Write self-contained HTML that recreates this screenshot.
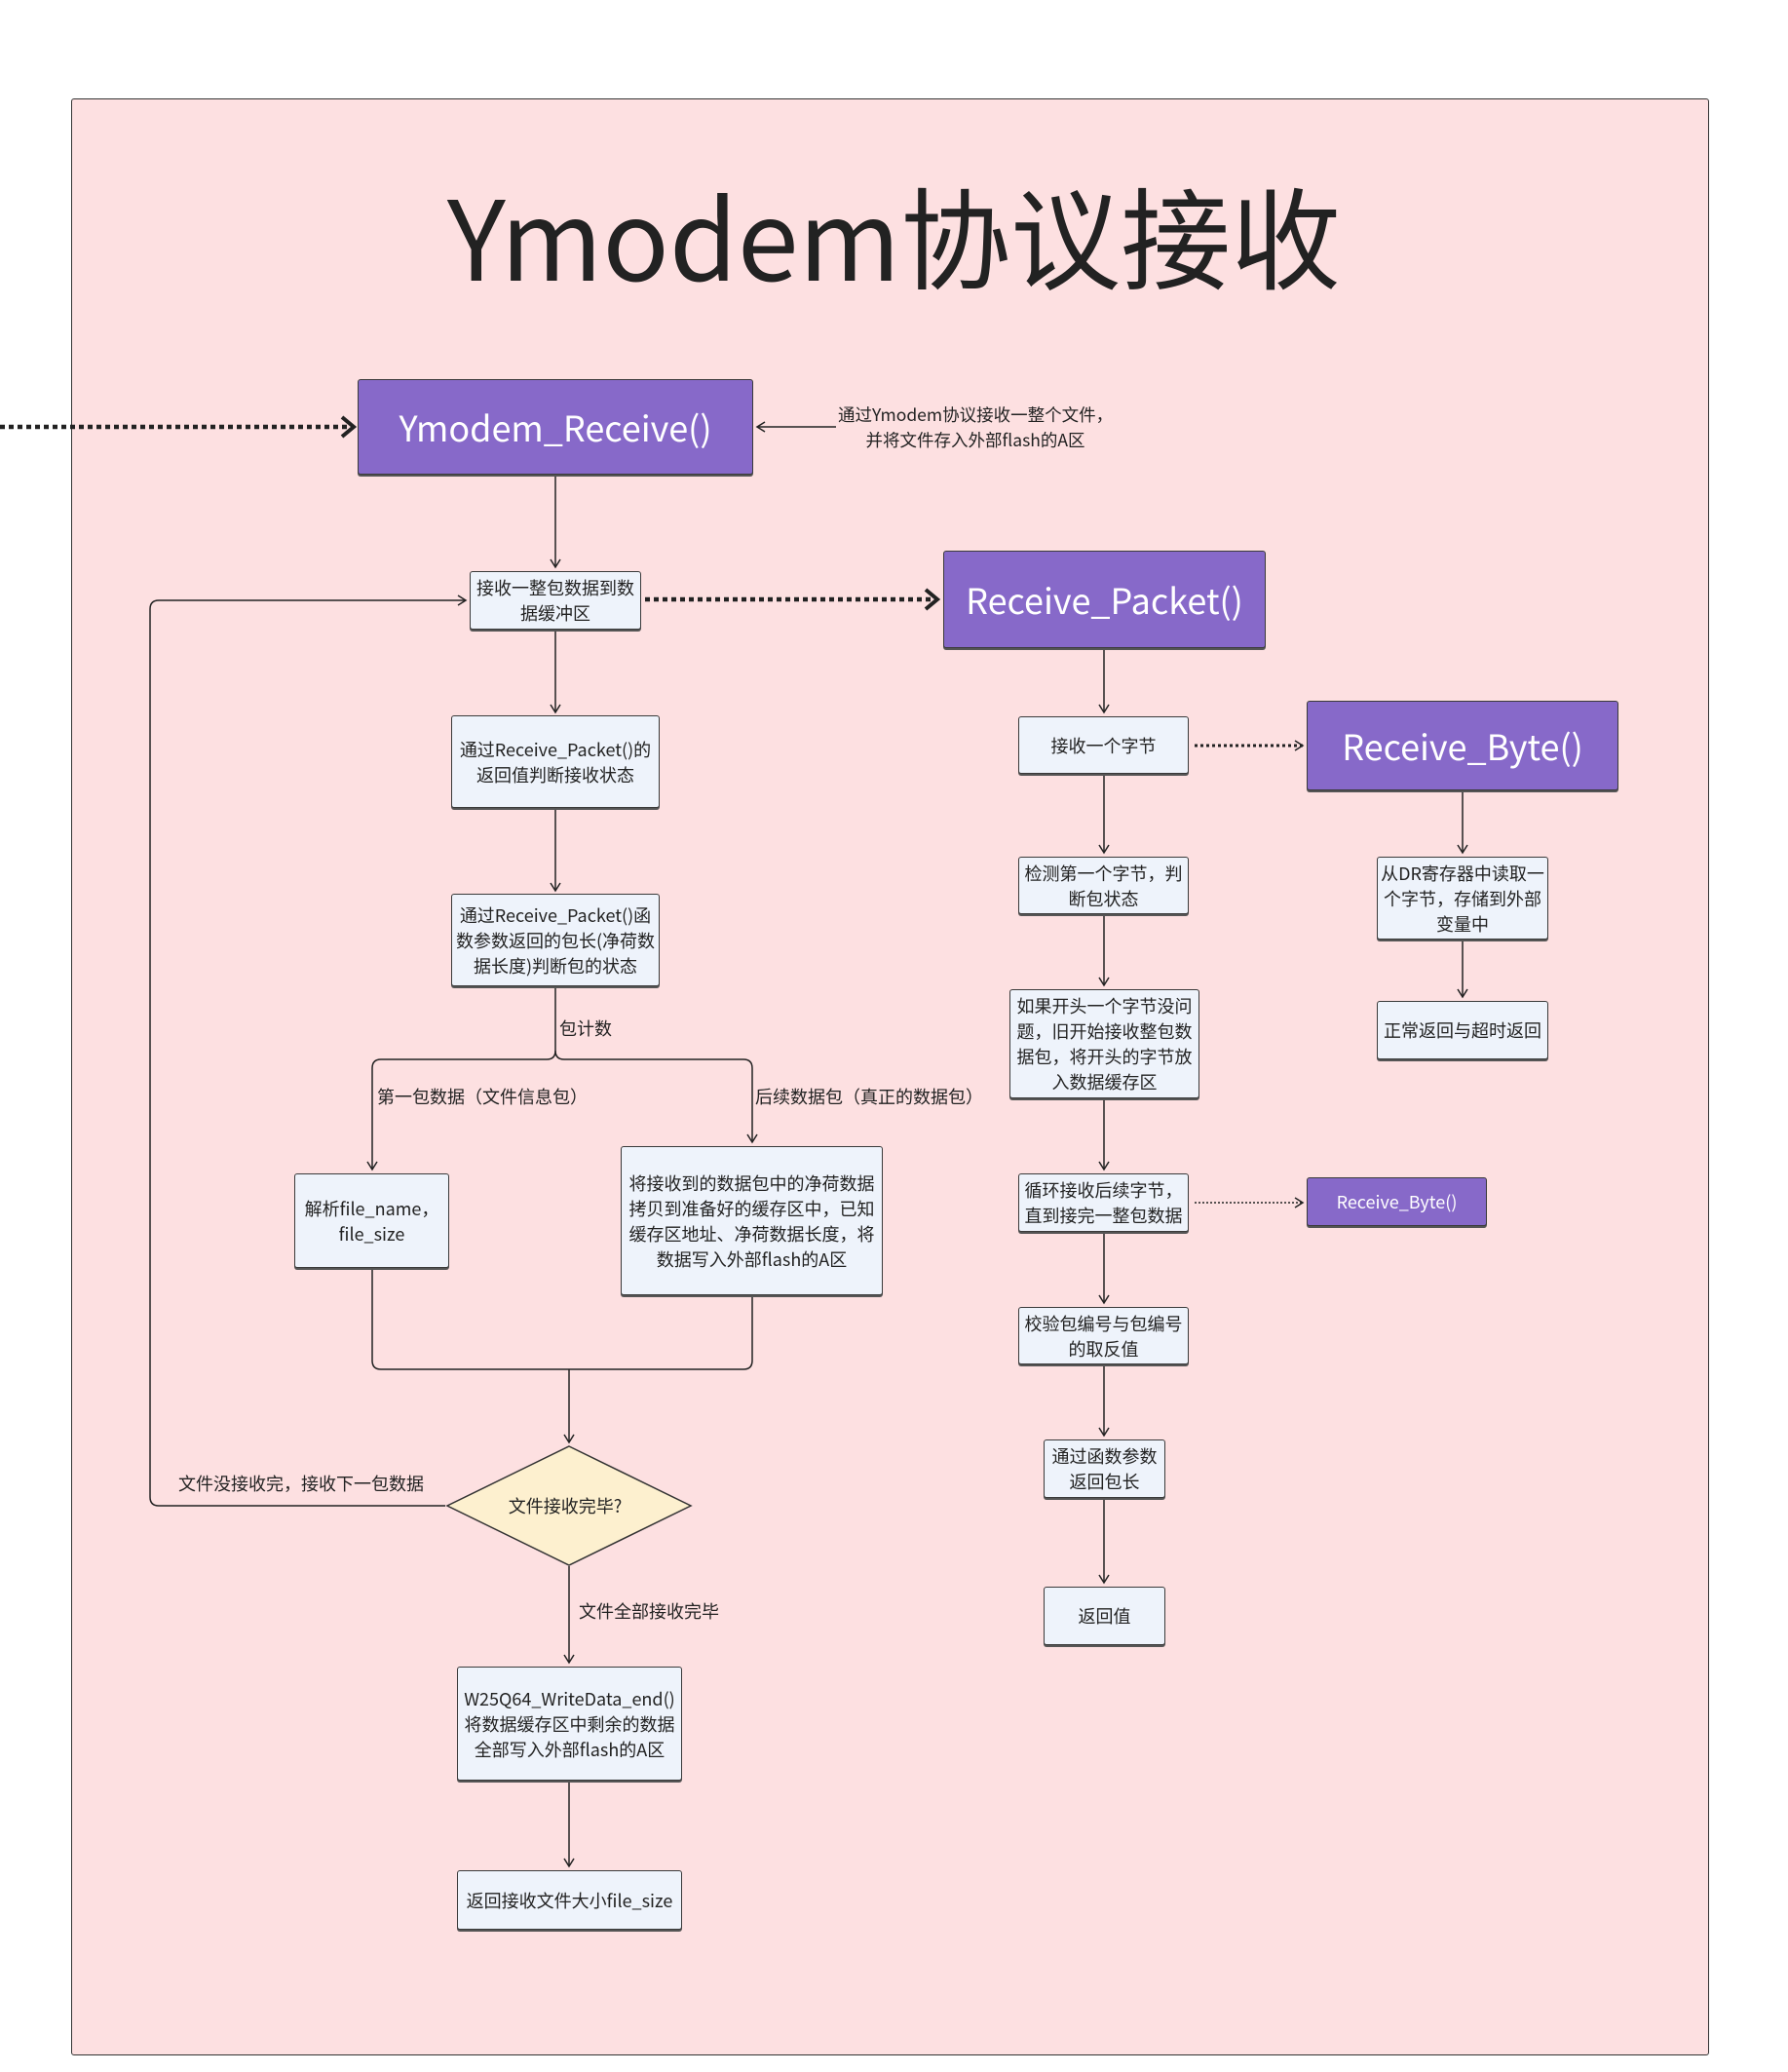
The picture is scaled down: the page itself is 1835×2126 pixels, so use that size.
<!DOCTYPE html>
<html><head><meta charset="utf-8"><style>
body{margin:0;width:1835px;height:2126px;background:#fff;position:relative;overflow:hidden;font-family:"Noto Sans CJK SC","Liberation Sans",sans-serif;}
.b{position:absolute;box-sizing:border-box;background:#eef3fb;border:1.5px solid #3a3a3a;border-radius:3px;display:flex;align-items:center;justify-content:center;text-align:center;font-size:18px;line-height:26px;color:#222;box-shadow:0 2px 0 #555;}
.p{background:#8769c9;color:#fff;border-color:#3a3a3a;}
.t{position:absolute;font-size:18px;line-height:26px;color:#222;white-space:nowrap;}
</style></head><body>
<div style="position:absolute;left:73px;top:101px;width:1681px;height:2008px;background:#fde0e1;border:1.5px solid #333;border-radius:3px;box-sizing:border-box;"></div>
<div style="position:absolute;left:0;width:1835px;top:154px;text-align:center;font-size:113px;line-height:170px;color:#222;padding-left:0px;">Ymodem协议接收</div>
<svg width="1835" height="2126" style="position:absolute;left:0;top:0" fill="none" stroke="#222">
<defs>
<marker id="a" markerWidth="12" markerHeight="12" refX="10" refY="6" orient="auto" markerUnits="userSpaceOnUse"><path d="M2,1 L10,6 L2,11" stroke="#222" stroke-width="1.5" fill="none"/></marker>
<marker id="A" markerWidth="20" markerHeight="24" refX="16" refY="12" orient="auto" markerUnits="userSpaceOnUse"><path d="M4,2 L16,12 L4,22" stroke="#222" stroke-width="4" fill="none"/></marker>
</defs>
<g stroke-width="1.5">
<path d="M0,438 H363" stroke-width="4.5" stroke-dasharray="5,4" marker-end="url(#A)"/>
<path d="M858,438 H777" marker-end="url(#a)"/>
<path d="M570,489 V582" marker-end="url(#a)"/>
<path d="M662,615 H962" stroke-width="4.5" stroke-dasharray="5,4" marker-end="url(#A)"/>
<path d="M570,648 V731" marker-end="url(#a)"/>
<path d="M570,831 V914" marker-end="url(#a)"/>
<path d="M570,1014 V1078 Q570,1087 561,1087 H391 Q382,1087 382,1096 V1200" marker-end="url(#a)"/>
<path d="M570,1078 Q570,1087 579,1087 H763 Q772,1087 772,1096 V1172" marker-end="url(#a)"/>
<path d="M382,1303 V1396 Q382,1405 391,1405 H763 Q772,1405 772,1396 V1331"/>
<path d="M584,1405 V1480" marker-end="url(#a)"/>
<path d="M457,1545 H163 Q154,1545 154,1536 V625 Q154,616 163,616 H478" marker-end="url(#a)"/>
<path d="M584,1607 V1706" marker-end="url(#a)"/>
<path d="M584,1829 V1915" marker-end="url(#a)"/>
<path d="M1133,667 V731" marker-end="url(#a)"/>
<path d="M1226,765 H1337" stroke-width="3" stroke-dasharray="3,3" marker-end="url(#a)"/>
<path d="M1133,796 V875" marker-end="url(#a)"/>
<path d="M1133,940 V1011" marker-end="url(#a)"/>
<path d="M1133,1129 V1200" marker-end="url(#a)"/>
<path d="M1226,1234 H1337" stroke-dasharray="2,2" marker-end="url(#a)"/>
<path d="M1133,1266 V1337" marker-end="url(#a)"/>
<path d="M1133,1402 V1473" marker-end="url(#a)"/>
<path d="M1133,1539 V1624" marker-end="url(#a)"/>
<path d="M1501,813 V875" marker-end="url(#a)"/>
<path d="M1501,966 V1023" marker-end="url(#a)"/>
</g>
<polygon points="584,1484 709,1545 584,1606 459,1545" fill="#fdf0cf" stroke="#333" stroke-width="1.5"/>
</svg>
<div class="t" style="left:580px;top:1532px;transform:translateX(-50%)">文件接收完毕?</div>
<div class="t" style="left:860px;top:413px;line-height:26px;text-align:center;font-size:17.5px">通过Ymodem协议接收一整个文件，<br>并将文件存入外部flash的A区</div>
<div class="t" style="left:574px;top:1042px">包计数</div>
<div class="t" style="left:387px;top:1112px">第一包数据（文件信息包）</div>
<div class="t" style="left:775px;top:1112px">后续数据包（真正的数据包）</div>
<div class="t" style="left:183px;top:1509px">文件没接收完，接收下一包数据</div>
<div class="t" style="left:594px;top:1640px">文件全部接收完毕</div>

<div class="b p" style="left:367px;top:389px;width:406px;height:98px;font-size:36px">Ymodem_Receive()</div>
<div class="b" style="left:482px;top:586px;width:176px;height:60px">接收一整包数据到数<br>据缓冲区</div>
<div class="b p" style="left:968px;top:565px;width:331px;height:100px;font-size:36px">Receive_Packet()</div>
<div class="b" style="left:463px;top:734px;width:214px;height:95px">通过Receive_Packet()的<br>返回值判断接收状态</div>
<div class="b" style="left:463px;top:917px;width:214px;height:95px">通过Receive_Packet()函<br>数参数返回的包长(净荷数<br>据长度)判断包的状态</div>
<div class="b" style="left:302px;top:1204px;width:159px;height:97px">解析file_name，<br>file_size</div>
<div class="b" style="left:637px;top:1176px;width:269px;height:153px">将接收到的数据包中的净荷数据<br>拷贝到准备好的缓存区中，已知<br>缓存区地址、净荷数据长度，将<br>数据写入外部flash的A区</div>
<div class="b" style="left:469px;top:1710px;width:231px;height:117px">W25Q64_WriteData_end()<br>将数据缓存区中剩余的数据<br>全部写入外部flash的A区</div>
<div class="b" style="left:469px;top:1919px;width:231px;height:61px">返回接收文件大小file_size</div>

<div class="b" style="left:1045px;top:735px;width:175px;height:59px">接收一个字节</div>
<div class="b p" style="left:1341px;top:719px;width:320px;height:92px;font-size:36px">Receive_Byte()</div>
<div class="b" style="left:1045px;top:879px;width:175px;height:59px">检测第一个字节，判<br>断包状态</div>
<div class="b" style="left:1036px;top:1015px;width:195px;height:112px">如果开头一个字节没问<br>题，旧开始接收整包数<br>据包，将开头的字节放<br>入数据缓存区</div>
<div class="b" style="left:1045px;top:1204px;width:175px;height:60px">循环接收后续字节，<br>直到接完一整包数据</div>
<div class="b p" style="left:1341px;top:1208px;width:185px;height:50px;font-size:18px">Receive_Byte()</div>
<div class="b" style="left:1045px;top:1341px;width:175px;height:59px">校验包编号与包编号<br>的取反值</div>
<div class="b" style="left:1071px;top:1477px;width:125px;height:60px">通过函数参数<br>返回包长</div>
<div class="b" style="left:1071px;top:1628px;width:125px;height:60px">返回值</div>
<div class="b" style="left:1413px;top:879px;width:176px;height:85px">从DR寄存器中读取一<br>个字节，存储到外部<br>变量中</div>
<div class="b" style="left:1413px;top:1027px;width:176px;height:60px">正常返回与超时返回</div>
</body></html>
